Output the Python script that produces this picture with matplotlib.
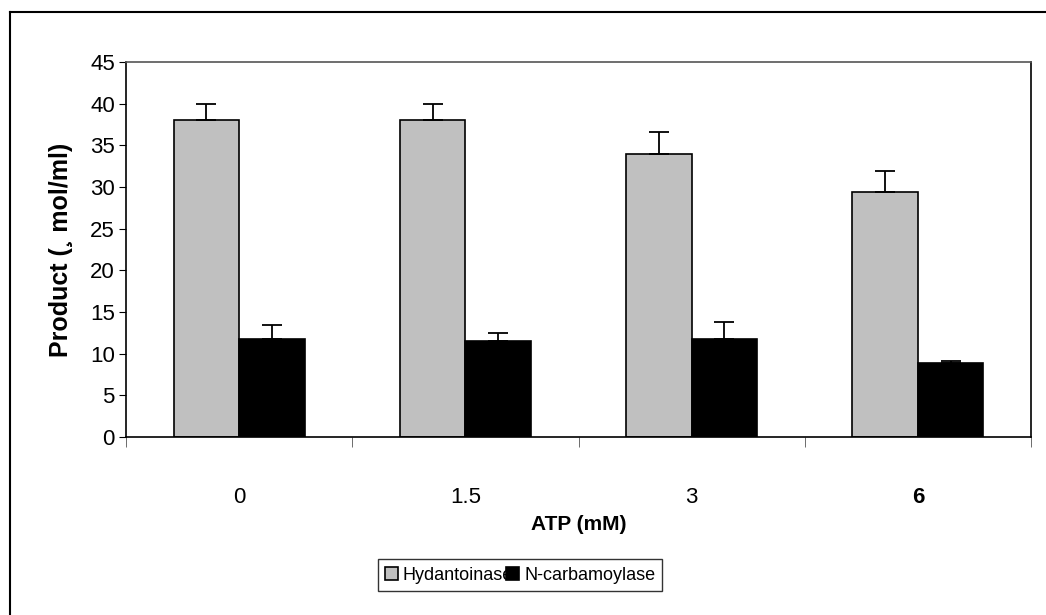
import matplotlib.pyplot as plt
import numpy as np

plt.rcParams['font.family'] = ['Liberation Sans', 'DejaVu Sans']

atp = ['0', '1.5', '3', '6']
hyd = [38.0, 38.0, 34.0, 29.4]
hyd_err = [2.0, 2.0, 2.6, 2.5]
ncarb = [11.8, 11.5, 11.8, 8.9]
ncarb_err = [1.6, 1.0, 2.0, 0.2]

fig = plt.figure(figsize=(10.46, 6.15), dpi=100)
ax = fig.add_axes([126/1046, 1-437/615, (1031-126)/1046, (437-62)/615])

x = np.arange(len(atp))
w = 0.29
ekw = dict(ecolor='black', elinewidth=1.3, capsize=7, capthick=1.3)
ax.bar(x-w/2, hyd, w, color='#c0c0c0', edgecolor='black', linewidth=1.2,
       yerr=[np.zeros(4), hyd_err], error_kw=ekw, label='Hydantoinase')
ax.bar(x+w/2, ncarb, w, color='black', edgecolor='black', linewidth=1.2,
       yerr=[np.zeros(4), ncarb_err], error_kw=ekw, label='N-carbamoylase')

ax.set_xlim(-0.5, 3.5)
ax.set_ylim(0, 45)
ax.set_yticks(range(0, 50, 5))
ax.tick_params(axis='y', labelsize=16, direction='out', length=5, pad=3)
ax.set_xticks(x)
ax.set_xticklabels(atp)
ax.get_xticklabels()[3].set_fontweight('bold')
ax.tick_params(axis='x', which='major', length=0, labelsize=16, pad=36)
ax.set_xticks(np.arange(-0.5, 4, 1), minor=True)
ax.tick_params(axis='x', which='minor', direction='out', length=7, color='#555555')

ax.spines['top'].set_color('#555555')
ax.spines['right'].set_color('black')
for s in ax.spines.values():
    s.set_linewidth(1.2)

ax.set_xlabel('ATP (mM)', fontsize=15, fontweight='bold', labelpad=5)
ax.set_ylabel('Product (\u00b8 mol/ml)', fontsize=18, fontweight='bold', labelpad=12)

leg = fig.legend(loc='center', bbox_to_anchor=(520/1046, 1-575/615), ncol=2, fontsize=13,
                 handlelength=0.7, handleheight=0.7, handletextpad=0.3, columnspacing=-0.4,
                 frameon=True, fancybox=False, borderpad=0.4, borderaxespad=0)
leg.get_frame().set_edgecolor('black')
leg.get_frame().set_linewidth(1.0)

# outer chart border (only top and left visible)
fig.add_artist(plt.Line2D([10/1046, 1], [1-12/615, 1-12/615], color='black', lw=1.5))
fig.add_artist(plt.Line2D([10/1046, 10/1046], [0, 1-12/615], color='black', lw=1.5))

fig.savefig('out.png', dpi=100)
